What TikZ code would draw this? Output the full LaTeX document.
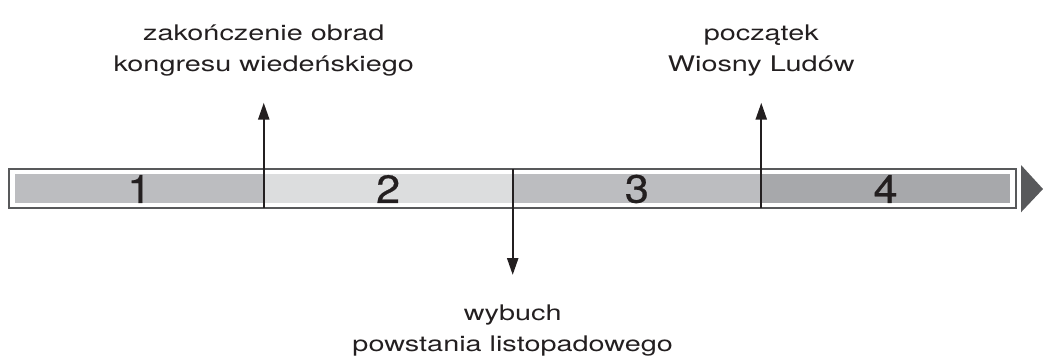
\documentclass[tikz,border=0pt]{standalone}
\usepackage{fontspec}
\setmainfont{TeX Gyre Heros}
\newfontfamily\labelfont[FakeStretch=1.34]{TeX Gyre Heros}
\newfontfamily\numfont[FakeStretch=1.1,FakeBold=0.6]{TeX Gyre Heros}
\usetikzlibrary{arrows.meta,positioning}
\definecolor{barlight}{HTML}{DCDDDE}
\definecolor{barmid}{HTML}{BCBDC0}
\definecolor{bardark}{HTML}{A7A8AB}
\definecolor{framegray}{HTML}{58595B}
\definecolor{ink}{HTML}{231F20}
\tikzset{
	event/.style={line width=1.7pt, draw=ink, -{Triangle[width=2.75mm,length=4.25mm]}},
	period/.style={font=\numfont\fontsize{28}{30}\selectfont, text=ink, inner sep=0pt},
	caption/.style={font=\labelfont\fontsize{15.3}{21.8}\selectfont, text=ink, align=center, inner sep=0pt}
}
\begin{document}
\begin{tikzpicture}
			\useasboundingbox (0,0) rectangle (26.075,9.025);
			%time bar
			\draw[framegray, line width=1pt] (0.225,3.825) rectangle (25.4,4.8);
			\foreach \i/\c in {1/barmid, 2/barlight, 3/barmid, 4/bardark}{
				\fill[\c] ({0.375+6.21875*(\i-1)},3.94) rectangle ({0.375+6.21875*\i},4.675);
				\node[period] (p\i) at ({0.375+6.21875*(\i-0.5)},4.3){\i};
			}
			\fill[framegray] (25.525,4.9) -- (26.075,4.3) -- (25.525,3.7175) -- cycle;
			
			%events
			\coordinate (b1) at (6.59375,3.825);
			\coordinate (t1) at (6.59375,6.4575);
			\coordinate (b2) at (12.8175,4.8);
			\coordinate (t2) at (12.8175,2.15);
			\coordinate (b3) at (19.03125,3.825);
			\coordinate (t3) at (19.03125,6.4575);
			\draw[event] (b1) -- (t1);
			\draw[event] (b2) -- (t2);
			\draw[event] (b3) -- (t3);
			\node[caption, above=0.66cm of t1] (c1){zakończenie obrad\\kongresu wiedeńskiego};
			\node[caption, below=0.75cm of t2] (c2){wybuch\\powstania listopadowego};
			\node[caption, above=0.66cm of t3] (c3){początek\\Wiosny Ludów};
		\end{tikzpicture}
\end{document}
